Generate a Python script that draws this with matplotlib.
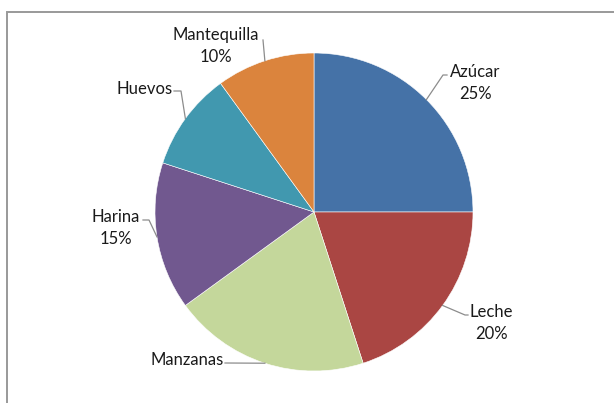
import numpy as np
import matplotlib.pyplot as plt

# data
labels = ["Azúcar", "Leche", "Manzanas", "Harina", "Huevos", "Mantequilla"]
values = [25, 20, 20, 15, 10, 10]
show_pct = [True, True, False, True, False, True]
colors = ["#4572A7", "#AA4643", "#C4D79B", "#71588F", "#4198AF", "#DB843D"]

W, H = 614, 403
cx, cy, r = 314, 212, 159

fig = plt.figure(figsize=(W / 100, H / 100), dpi=100)
ax = fig.add_axes([0, 0, 1, 1])

wedges, _ = ax.pie(values, colors=colors, startangle=90, counterclock=False,
                   center=(cx, H - cy), radius=r,
                   wedgeprops={"edgecolor": "white", "linewidth": 0.4})

ax.set_xlim(0, W)
ax.set_ylim(0, H)
ax.set_aspect("auto")
ax.axis("off")

# frame of the chart area (top and left side visible)
ax.plot([7, 7, W], [0, H - 12, H - 12], color="#999999", lw=1.4,
        solid_joinstyle="miter", clip_on=False)

# label text centre, elbow point, line end near text (image coords, y down)
label_pos = {
    "Azúcar": ((475, 83), [(443, 75), (447, 75)]),
    "Leche": ((491, 323), [(465, 315), (468, 315)]),
    "Manzanas": ((187, 360), [(225, 363)]),
    "Harina": ((116, 228), [(149, 220), (143, 220)]),
    "Huevos": ((145, 89), [(181, 91), (174, 91)]),
    "Mantequilla": ((216, 46), [(263, 40), (263, 40)]),
}

for w, lab, val, pct in zip(wedges, labels, values, show_pct):
    mid = np.deg2rad((w.theta1 + w.theta2) / 2)
    ex = cx + r * np.cos(mid)
    ey = cy - r * np.sin(mid)
    (tx, ty), pts = label_pos[lab]
    xs = [ex] + [p[0] for p in pts]
    ys = [H - ey] + [H - p[1] for p in pts]
    ax.plot(xs, ys, color="#8c8c8c", lw=0.9)
    txt = lab + ("\n%d%%" % val if pct else "")
    ax.text(tx, H - ty, txt, ha="center", va="center", fontsize=12,
            family="Lato", color="#1a1a1a", linespacing=1.45)

fig.savefig("out.png", dpi=100)
